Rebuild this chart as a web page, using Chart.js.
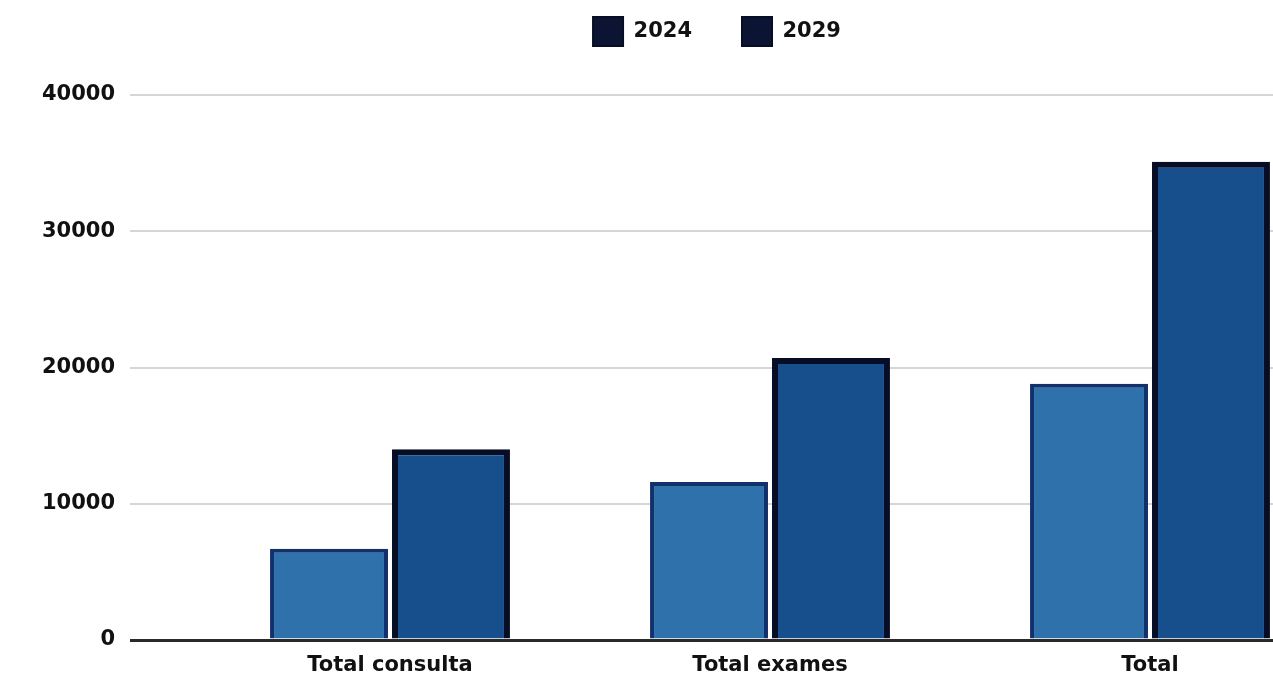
<!DOCTYPE html>
<html>
<head>
<meta charset="utf-8">
<script src="https://cdn.jsdelivr.net/npm/chart.js@4/dist/chart.umd.min.js"></script>
<style>
  html, body { margin: 0; padding: 0; background: #ffffff; overflow: hidden; }
  #wrap { width: 1350px; height: 687px; }
</style>
</head>
<body>
<div id="wrap"><canvas id="c" width="1350" height="687"></canvas></div>
<script>
const categories = ['Total consulta', 'Total exames', 'Total'];
const seriesNames = ['2024', '2029'];
const values2024 = [6700, 11600, 18800];
const values2029 = [14000, 20700, 35100];
const yTicks = [0, 10000, 20000, 30000, 40000];

const FONT = "'DejaVu Sans', sans-serif";

const legendPlacer = {
  id: 'legendPlacer',
  beforeInit(chart) {
    const orig = chart.legend.fit;
    chart.legend.fit = function () {
      orig.call(this);
      this.height = 95;
    };
  },
  afterLayout(chart) {
    const lg = chart.legend;
    lg.top = -33;
    lg.bottom = lg.top + 95;
    lg.left = 47;
    lg.right = 1387;
  }
};

new Chart(document.getElementById('c'), {
  type: 'bar',
  data: {
    labels: categories,
    datasets: [
      {
        label: seriesNames[0],
        data: values2024,
        backgroundColor: '#2f72ab',
        borderColor: '#12306c',
        borderWidth: 4,
        categoryPercentage: 0.642,
        barPercentage: 0.967
      },
      {
        label: seriesNames[1],
        data: values2029,
        backgroundColor: '#164f8c',
        borderColor: '#070d24',
        borderWidth: 6,
        categoryPercentage: 0.642,
        barPercentage: 0.967
      }
    ]
  },
  plugins: [legendPlacer],
  options: {
    responsive: false,
    animation: false,
    layout: { padding: { top: 0, right: 10, bottom: 0, left: 0 } },
    plugins: {
      tooltip: { enabled: false },
      legend: {
        display: true,
        position: 'top',
        labels: {
          boxWidth: 30,
          boxHeight: 29,
          padding: 50,
          color: '#111111',
          font: { family: FONT, size: 21, weight: 'bold' },
          generateLabels(chart) {
            const items = Chart.defaults.plugins.legend.labels.generateLabels(chart);
            items.forEach(it => { it.fillStyle = '#0b1533'; it.strokeStyle = '#070d24'; it.lineWidth = 2; });
            return items;
          }
        }
      }
    },
    scales: {
      x: {
        type: 'category',
        offset: true,
        afterFit(scale) { scale.height = 47; },
        grid: { display: false, drawTicks: false },
        border: { display: false },
        ticks: {
          color: '#111111',
          padding: 13,
          font: { family: FONT, size: 21, weight: 'bold' }
        }
      },
      y: {
        min: yTicks[0],
        max: yTicks[yTicks.length - 1],
        afterBuildTicks(scale) { scale.ticks = yTicks.map(v => ({ value: v })); },
        afterFit(scale) { scale.width = 200; },
        border: { display: false },
        grid: {
          drawTicks: true,
          tickLength: 70,
          color: ctx => (ctx.tick && ctx.tick.value === 0) ? '#2a2a2a' : '#d6d6d6',
          lineWidth: ctx => (ctx.tick && ctx.tick.value === 0) ? 3 : 2
        },
        ticks: {
          color: '#111111',
          padding: 15,
          font: { family: FONT, size: 21, weight: 'bold' },
          callback: v => String(v)
        }
      }
    }
  }
});
</script>
</body>
</html>
